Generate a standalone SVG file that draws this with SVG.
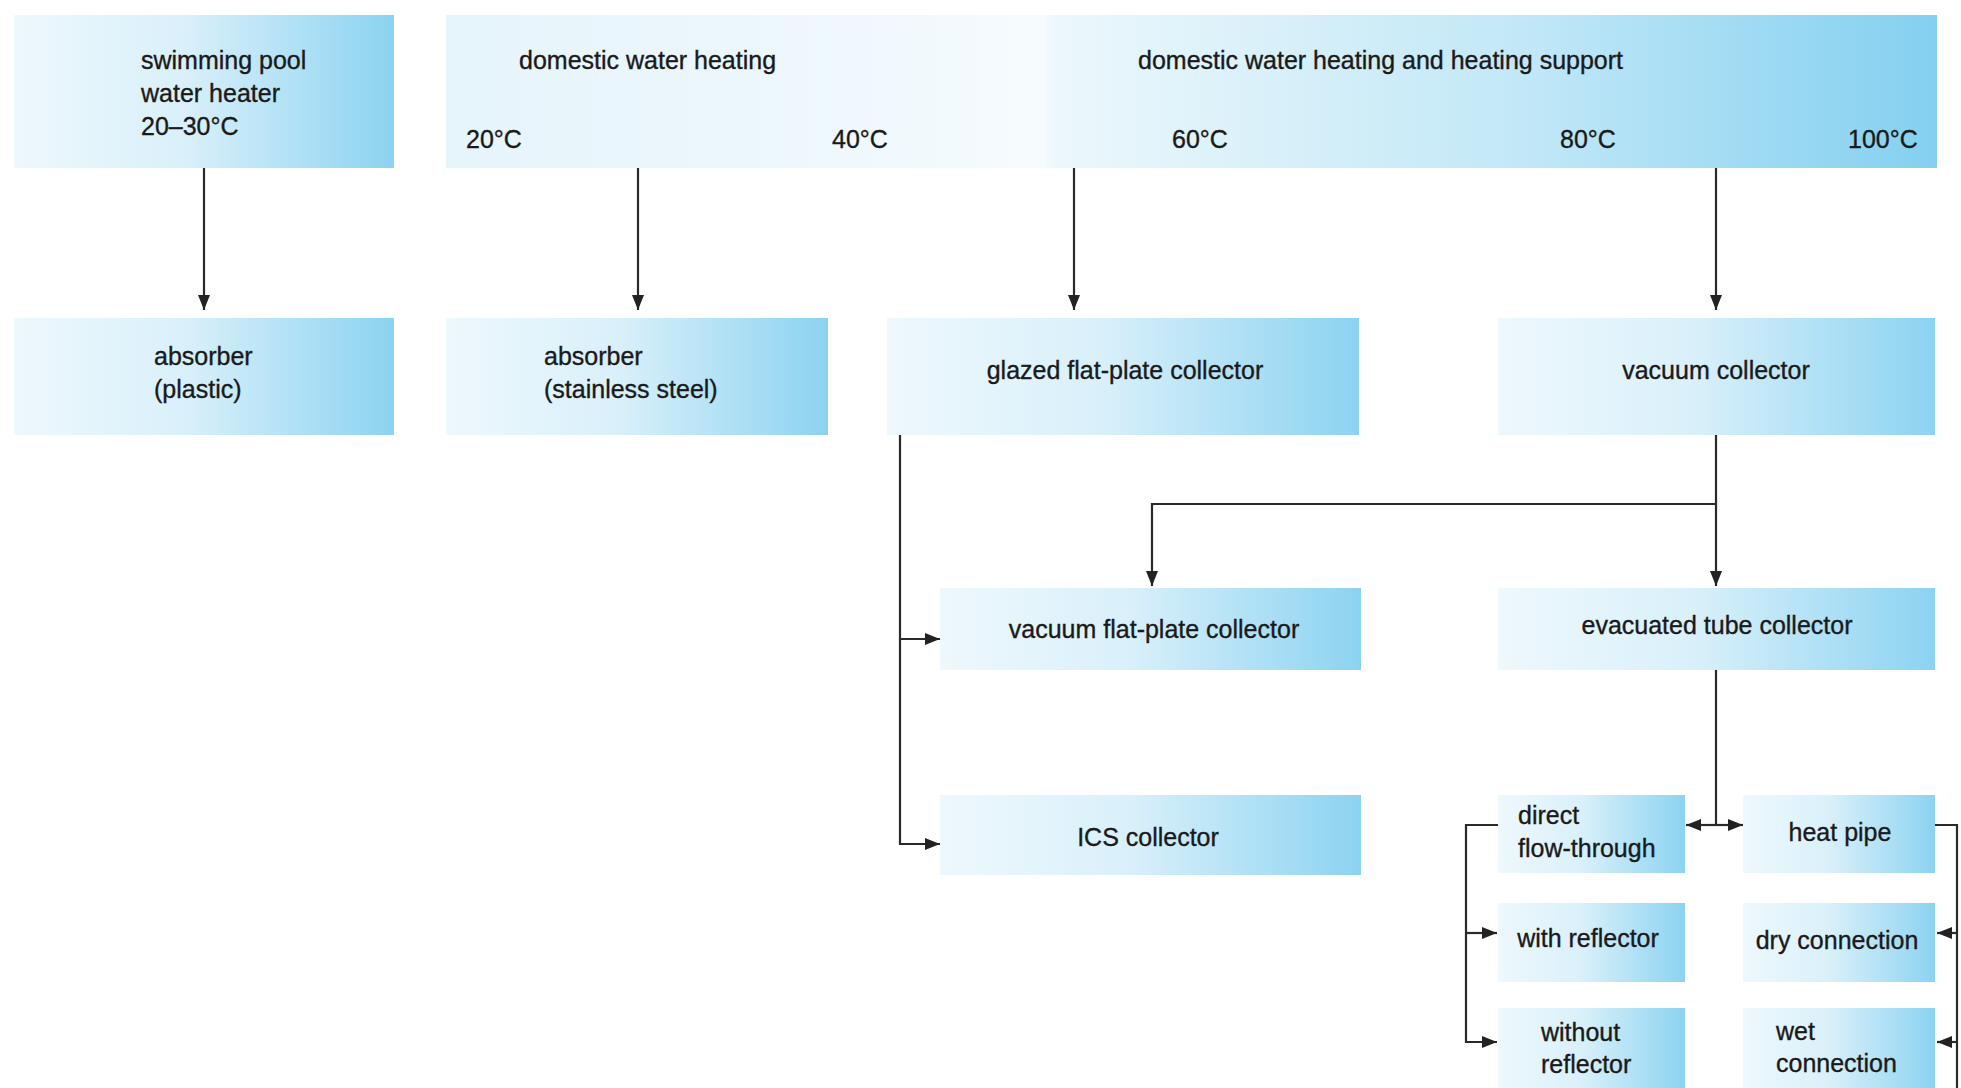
<svg xmlns="http://www.w3.org/2000/svg" width="1961" height="1088" viewBox="0 0 1961 1088">
<defs>
<linearGradient id="boxg" x1="0" y1="0" x2="1" y2="0">
<stop offset="0" stop-color="#eef8fd"/>
<stop offset="0.45" stop-color="#d9f0fa"/>
<stop offset="1" stop-color="#8cd3f1"/>
</linearGradient>
<linearGradient id="hdrg" x1="0" y1="0" x2="1" y2="0">
<stop offset="0" stop-color="#e6f4fb"/>
<stop offset="0.26" stop-color="#eef8fd"/>
<stop offset="0.40" stop-color="#f6fbfe"/>
<stop offset="0.41" stop-color="#ecf7fc"/>
<stop offset="0.72" stop-color="#c2e8f7"/>
<stop offset="1" stop-color="#84d0f0"/>
</linearGradient>
<marker id="ah" markerUnits="userSpaceOnUse" markerWidth="15" markerHeight="12" refX="15" refY="6" orient="auto">
<path d="M0,0 L15,6 L0,12 z" fill="#222"/>
</marker>
<style>
.box{fill:url(#boxg)}
.hdr{fill:url(#hdrg)}
.t{font-family:"Liberation Sans",Arial,sans-serif;font-size:25px;fill:#1a1a1a;stroke:#1a1a1a;stroke-width:0.35}
.m{text-anchor:middle}
.c{fill:none;stroke:#2a2a2a;stroke-width:2.2}
.a{marker-end:url(#ah)}
</style>
</defs>
<rect width="1961" height="1088" fill="#ffffff"/>

<g id="n-pool">
<rect class="box" x="14" y="15" width="380" height="153"/>
<text class="t" x="141" y="69">swimming pool</text>
<text class="t" x="141" y="102">water heater</text>
<text class="t" x="141" y="135">20–30°C</text>
</g>
<g id="n-header">
<rect class="hdr" x="446" y="15" width="1491" height="153"/>
<text class="t" x="519" y="69">domestic water heating</text>
<text class="t" x="1138" y="69">domestic water heating and heating support</text>
<text class="t" x="466" y="148">20°C</text>
<text class="t" x="832" y="148">40°C</text>
<text class="t" x="1172" y="148">60°C</text>
<text class="t" x="1560" y="148">80°C</text>
<text class="t" x="1848" y="148">100°C</text>
</g>
<g id="n-abs-plastic">
<rect class="box" x="14" y="318" width="380" height="117"/>
<text class="t" x="154" y="365">absorber</text>
<text class="t" x="154" y="398">(plastic)</text>
</g>
<g id="n-abs-steel">
<rect class="box" x="446" y="318" width="382" height="117"/>
<text class="t" x="544" y="365">absorber</text>
<text class="t" x="544" y="398">(stainless steel)</text>
</g>
<g id="n-glazed">
<rect class="box" x="887" y="318" width="472" height="117"/>
<text class="t m" x="1125" y="379">glazed flat-plate collector</text>
</g>
<g id="n-vacuum">
<rect class="box" x="1498" y="318" width="437" height="117"/>
<text class="t m" x="1716" y="379">vacuum collector</text>
</g>
<g id="n-vac-flat">
<rect class="box" x="940" y="588" width="421" height="82"/>
<text class="t m" x="1154" y="638">vacuum flat-plate collector</text>
</g>
<g id="n-evac">
<rect class="box" x="1498" y="588" width="437" height="82"/>
<text class="t m" x="1717" y="634">evacuated tube collector</text>
</g>
<g id="n-ics">
<rect class="box" x="940" y="795" width="421" height="80"/>
<text class="t m" x="1148" y="846">ICS collector</text>
</g>
<g id="n-direct">
<rect class="box" x="1498" y="795" width="187" height="78"/>
<text class="t" x="1518" y="824">direct</text>
<text class="t" x="1518" y="857">flow-through</text>
</g>
<g id="n-heatpipe">
<rect class="box" x="1743" y="795" width="192" height="78"/>
<text class="t m" x="1840" y="841">heat pipe</text>
</g>
<g id="n-with-refl">
<rect class="box" x="1498" y="903" width="187" height="79"/>
<text class="t m" x="1588" y="947">with reflector</text>
</g>
<g id="n-dry">
<rect class="box" x="1743" y="903" width="192" height="79"/>
<text class="t m" x="1837" y="949">dry connection</text>
</g>
<g id="n-without-refl">
<rect class="box" x="1498" y="1008" width="187" height="90"/>
<text class="t" x="1541" y="1041">without</text>
<text class="t" x="1541" y="1073">reflector</text>
</g>
<g id="n-wet">
<rect class="box" x="1743" y="1008" width="192" height="90"/>
<text class="t" x="1776" y="1040">wet</text>
<text class="t" x="1776" y="1072">connection</text>
</g>

<g id="connectors">
<path class="c a" d="M204,168 V310"/>
<path class="c a" d="M638,168 V310"/>
<path class="c a" d="M1074,168 V310"/>
<path class="c a" d="M1716,168 V310"/>
<path class="c a" d="M900,435 V844 H940"/>
<path class="c a" d="M900,639 H940"/>
<path class="c a" d="M1716,435 V586"/>
<path class="c a" d="M1716,504 H1152 V586"/>
<path class="c" d="M1716,670 V825"/>
<path class="c a" d="M1716,825 H1686"/>
<path class="c a" d="M1716,825 H1743"/>
<path class="c" d="M1498,825 H1466 V933"/>
<path class="c a" d="M1466,933 V1042 H1497"/>
<path class="c a" d="M1466,933 H1497"/>
<path class="c" d="M1935,825 H1957 V1088"/>
<path class="c a" d="M1957,933 H1937"/>
<path class="c a" d="M1957,1042 H1937"/>
</g>
</svg>
